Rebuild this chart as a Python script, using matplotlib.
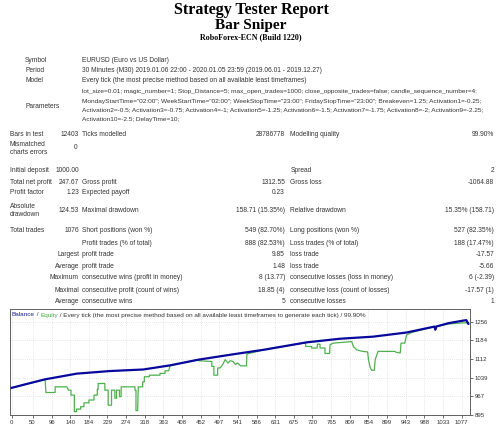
import matplotlib
matplotlib.use('Agg')
import matplotlib.pyplot as plt

# chart values
bal_trade = [0, 36, 80, 156, 235, 315, 379, 447, 527, 606, 706, 786, 865, 945,
             1012, 1014, 1016, 1045, 1077, 1088, 1093]
bal_value = [1000, 1015, 1033, 1055, 1065, 1071, 1087, 1109, 1129, 1148, 1176, 1190, 1198, 1214,
             1237, 1225, 1237, 1250, 1259, 1262, 1248]

eq_trade = [0, 36, 80, 82, 104, 104, 132, 136, 142, 142, 150, 150, 155.5, 155.5, 165, 165, 173,
            173, 185, 185, 197, 197, 205, 205, 207, 207, 223, 223, 231, 231, 239, 239, 247,
            247, 251, 251, 258, 258, 262, 262, 295, 295, 297.5, 297.5, 301.5, 303, 313.5,
            313.5, 317.5, 317.5, 329.5, 329.5, 355, 355, 367, 367, 376, 379, 447,
            447, 479, 479, 484, 484, 493, 493, 499, 505, 511, 518, 523, 530, 535, 541, 548,
            562, 563, 606, 703, 704, 718, 718, 731, 732, 738, 738, 750, 750, 761, 762, 770,
            800, 814, 818, 826, 840, 852, 854, 858, 862, 868, 870, 877, 917, 921, 930, 932,
            941, 945, 953, 957, 1012, 1014, 1016, 1045, 1077, 1088, 1093]
eq_value = [1000, 1015, 1033, 982, 982, 1004, 1004, 991, 991, 972, 972, 908, 908, 918, 918,
            927, 927, 942, 942, 953, 953, 972, 972, 994, 994, 1017, 1017, 991, 991, 933, 933,
            991, 991, 960, 960, 991, 991, 966, 966, 1004, 1004, 991, 991, 912, 912, 1004, 1004,
            1023, 1023, 1043, 1043, 1049, 1049, 1056, 1056, 1066, 1066, 1086, 1109,
            1105, 1102, 1083, 1083, 1049, 1049, 1077, 1077, 1090, 1109, 1096, 1105, 1102, 1090,
            1096, 1085, 1085, 1131, 1148, 1175, 1160, 1160, 1154, 1154, 1169, 1169, 1154, 1154,
            1133, 1133, 1167, 1173, 1177, 1179, 1159, 1147, 1141, 1139, 1109, 1079, 1068, 1068,
            1109, 1141, 1141, 1137, 1135, 1173, 1173, 1204, 1211, 1214, 1237, 1225, 1237, 1247,
            1251, 1252, 1248]

y_ticks = [895, 967, 1039, 1112, 1184, 1256]
x_labels = ['0', '50', '96', '140', '184', '229', '274', '318', '363', '408', '452', '497',
            '541', '586', '631', '675', '720', '765', '809', '854', '899', '943', '988',
            '1033', '1077']

W, H = 500, 428
fig = plt.figure(figsize=(W / 100, H / 100), dpi=100)
fig.patch.set_facecolor('white')

SANS = 'Liberation Sans'
SERIF = 'Liberation Serif'
FS = 4.75
GREY = '#333333'


def put(x, y, s, ha='left', size=FS, **kw):
    kw.setdefault('color', GREY)
    kw.setdefault('family', SANS)
    return fig.text(x / W, 1 - y / H, s, ha=ha, va='center', fontsize=size, **kw)


# header
put(251, 10, 'Strategy Tester Report', ha='center', size=11.5, family=SERIF,
    weight='bold', color='black')
put(251, 26, 'Bar Sniper', ha='center', size=11, family=SERIF, weight='bold', color='black')
put(251, 37, 'RoboForex-ECN (Build 1220)', ha='center', size=5.8, family=SERIF,
    weight='bold', color='black')

# first block
put(25, 61, 'Symbol')
put(82, 61, 'EURUSD (Euro vs US Dollar)')
put(25, 71, 'Period')
put(82, 71, '30 Minutes (M30) 2019.01.06 22:00 - 2020.01.05 23:59 (2019.06.01 - 2019.12.27)')
put(25, 81, 'Model')
put(82, 81, 'Every tick (the most precise method based on all available least timeframes)')
put(25, 106, 'Parameters')
params = [
    'lot_size=0.01; magic_number=1; Stop_Distance=5; max_open_trades=1000; '
    'close_opposite_trades=false; candle_sequence_number=4;',
    'MondayStartTime="02:00"; WeekStartTime="02:00"; WeekStopTime="23:00"; '
    'FridayStopTime="23:00"; Breakeven=1.25; Activation1=-0.25;',
    'Activation2=-0.5; Activation3=-0.75; Activation4=-1; Activation5=-1.25; '
    'Activation6=-1.5; Activation7=-1.75; Activation8=-2; Activation9=-2.25;',
    'Activation10=-2.5; DelayTime=10;',
]
for i, line in enumerate(params):
    put(82, 92 + 9.1 * i, line, size=4.65)

# statistics block
C1, C2, C3, C4, C5 = 10, 79, 82, 285, 290.5
R = 494
put(C1, 134, 'Bars in test')
put(C2, 134, '12403', ha='right')
put(C3, 134, 'Ticks modelled')
put(C4, 134, '28786778', ha='right')
put(C5, 134, 'Modelling quality')
put(R, 134, '99.90%', ha='right')
put(C1, 144, 'Mismatched')
put(C1, 152, 'charts errors')
put(C2 - 1.5, 148, '0', ha='right')

put(C1, 171, 'Initial deposit')
put(C2, 171, '1000.00', ha='right')
put(C5, 171, 'Spread')
put(R, 171, '2', ha='right')

put(C1, 182, 'Total net profit')
put(C2, 182, '247.67', ha='right')
put(C3, 182, 'Gross profit')
put(C4, 182, '1312.55', ha='right')
put(C5, 182, 'Gross loss')
put(R, 182, '-1064.88', ha='right')

put(C1, 192.5, 'Profit factor')
put(C2, 192.5, '1.23', ha='right')
put(C3, 192.5, 'Expected payoff')
put(C4, 192.5, '0.23', ha='right')

put(C1, 206, 'Absolute')
put(C1, 214, 'drawdown')
put(C2, 210, '124.53', ha='right')
put(C3, 210, 'Maximal drawdown')
put(C4, 210, '158.71 (15.35%)', ha='right')
put(C5, 210, 'Relative drawdown')
put(R, 210, '15.35% (158.71)', ha='right')

rows = [
    (231, 'Total trades', '1076', 'Short positions (won %)', '549 (82.70%)',
     'Long positions (won %)', '527 (82.35%)'),
    (243, '', '', 'Profit trades (% of total)', '888 (82.53%)',
     'Loss trades (% of total)', '188 (17.47%)'),
    (254.5, '', 'Largest', 'profit trade', '9.85', 'loss trade', '-17.57'),
    (266, '', 'Average', 'profit trade', '1.48', 'loss trade', '-5.66'),
    (277.5, '', 'Maximum', 'consecutive wins (profit in money)', '8 (13.77)',
     'consecutive losses (loss in money)', '6 (-2.39)'),
    (290, '', 'Maximal', 'consecutive profit (count of wins)', '18.85 (4)',
     'consecutive loss (count of losses)', '-17.57 (1)'),
    (301.5, '', 'Average', 'consecutive wins', '5', 'consecutive losses', '1'),
]
for y, a, b, c, d, e, f in rows:
    if a:
        put(C1, y, a)
    put(C2, y, b, ha='right')
    put(C3, y, c)
    put(C4, y, d, ha='right')
    put(C5, y, e)
    put(R, y, f, ha='right')

# balance / equity chart
ax = fig.add_axes([10 / W, 1 - 415 / H, 460 / W, 106 / H])
ax.plot(eq_trade, eq_value, color='#4fb04f', lw=0.9, zorder=2)
ax.plot(bal_trade, bal_value, color='#08089c', lw=1.6, zorder=3)
ax.set_xlim(-4, 1097)
ax.set_ylim(895, 1305)

ax.set_yticks(y_ticks)
ax.set_yticklabels([str(v) for v in y_ticks])
x_pos = [int(s) for s in x_labels]
ax.set_xticks(x_pos)
ax.set_xticklabels(x_labels)
ax.yaxis.tick_right()
ax.tick_params(axis='both', labelsize=4.3, length=2, width=0.5, pad=1.5,
               colors='#333333')
for lab in ax.get_xticklabels() + ax.get_yticklabels():
    lab.set_family(SANS)
ax.grid(True, color='#d0d0d0', linestyle=(0, (1, 2)), lw=0.5)
for sp in ax.spines.values():
    sp.set_color('#606060')
    sp.set_linewidth(0.7)

# legend line at the top of the chart
fig.canvas.draw()
rend = fig.canvas.get_renderer()
parts = [('Balance', '#1a1aa0'), (' / ', GREY), ('Equity', '#3caa3c'),
         (' / Every tick (the most precise method based on all available least timeframes '
          'to generate each tick) / 99.90%', GREY)]
x = 12.0
for s, col in parts:
    t = put(x, 315, s, size=4.6, color=col)
    x += t.get_window_extent(rend).width

fig.savefig('out.png', dpi=100)
